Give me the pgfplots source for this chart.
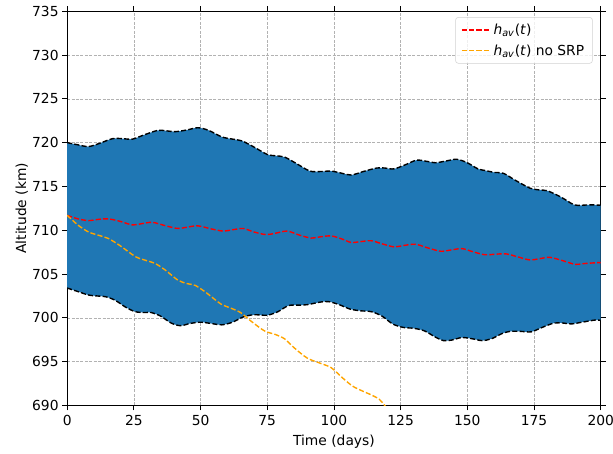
\documentclass[border={8pt 0pt -4pt 1pt}]{standalone}
\usepackage{fontspec}
\setmainfont{DejaVu Sans}
\usepackage{pgfplots}
\pgfplotsset{compat=1.18}
\usepgfplotslibrary{fillbetween}
\definecolor{mplblue}{HTML}{1F77B4}
\definecolor{mplorange}{HTML}{FFA500}
\begin{document}
\begin{tikzpicture}
\begin{axis}[
  width=385.9pt, height=285.1pt, scale only axis,
  xmin=0, xmax=200, ymin=690, ymax=735,
  xtick={0,25,...,200}, ytick={690,695,...,735},
  tick align=outside, major tick length=3.5pt,
  tick style={black, line width=0.6pt},
  grid=major, grid style={gray!60, line width=0.4pt, dash pattern=on 2.2pt off 1pt},
  axis line style={line width=0.6pt},
  xlabel={Time (days)}, ylabel={Altitude (km)},
  yticklabel style={inner xsep=2.5pt},
  ylabel style={yshift=-3pt},
  /pgf/number format/assume math mode=true,
  legend cell align=left,
  legend style={at={(rel axis cs:0.985,0.985)}, anchor=north east,
    draw=gray!35, rounded corners=2pt, fill=white, fill opacity=0.8, text opacity=1,
    inner xsep=4pt, inner ysep=2.5pt, row sep=2pt},
  legend image code/.code={\draw[#1] (0cm,0cm) -- (0.72cm,0cm);},
]
\addplot[name path=up, draw=none, smooth, forget plot] coordinates {
(0,720.0)(4,719.75)(8,719.55)(12,719.9)(17,720.45)(21,720.45)(24.5,720.4)(29,720.9)(34,721.4)(37,721.35)(40.5,721.25)(45,721.45)(49,721.7)(53,721.4)(58,720.65)(62,720.4)(65.5,720.2)(70,719.5)(75,718.65)(78,718.5)(81.5,718.35)(86,717.6)(91,716.75)(95,716.7)(99,716.75)(103,716.5)(106.5,716.3)(111,716.7)(116,717.1)(119,717.1)(122.5,717.0)(127,717.5)(131,718.0)(135,717.85)(138,717.7)(142,717.9)(146,718.1)(150,717.7)(154,717.0)(157,716.8)(160,716.6)(163.5,716.5)(168,715.7)(173.5,714.8)(177,714.6)(180,714.5)(185,713.8)(190,712.9)(193,712.85)(196,712.9)(200,712.85)
};
\addplot[name path=lo, draw=none, smooth, forget plot] coordinates {
(0,703.4)(4,703.0)(8,702.6)(11,702.5)(14.5,702.4)(18,702.0)(22,701.2)(25.5,700.7)(29,700.6)(31.5,700.6)(35,700.2)(39,699.4)(42.5,699.1)(46,699.35)(50,699.5)(54,699.35)(58,699.2)(62,699.5)(66,700.1)(70,700.35)(75,700.3)(79,700.7)(83,701.4)(87,701.45)(90,701.5)(95,701.8)(98,701.85)(102,701.5)(106,701.0)(110,700.8)(114,700.7)(118,700.2)(122,699.3)(126,698.9)(130,698.8)(134,698.5)(138,697.8)(141,697.4)(144,697.45)(148,697.75)(152,697.6)(155.5,697.4)(159,697.6)(163,698.2)(166,698.45)(170,698.45)(174,698.4)(178,698.9)(182.5,699.4)(186,699.4)(189,699.3)(193,699.5)(198,699.75)(200,699.7)
};
\addplot[mplblue, forget plot] fill between[of=up and lo];
\addplot[black, line width=1pt, dash pattern=on 3.7pt off 1.6pt, smooth, forget plot] coordinates {
(0,720.0)(4,719.75)(8,719.55)(12,719.9)(17,720.45)(21,720.45)(24.5,720.4)(29,720.9)(34,721.4)(37,721.35)(40.5,721.25)(45,721.45)(49,721.7)(53,721.4)(58,720.65)(62,720.4)(65.5,720.2)(70,719.5)(75,718.65)(78,718.5)(81.5,718.35)(86,717.6)(91,716.75)(95,716.7)(99,716.75)(103,716.5)(106.5,716.3)(111,716.7)(116,717.1)(119,717.1)(122.5,717.0)(127,717.5)(131,718.0)(135,717.85)(138,717.7)(142,717.9)(146,718.1)(150,717.7)(154,717.0)(157,716.8)(160,716.6)(163.5,716.5)(168,715.7)(173.5,714.8)(177,714.6)(180,714.5)(185,713.8)(190,712.9)(193,712.85)(196,712.9)(200,712.85)
};
\addplot[black, line width=1pt, dash pattern=on 3.7pt off 1.6pt, smooth, forget plot] coordinates {
(0,703.4)(4,703.0)(8,702.6)(11,702.5)(14.5,702.4)(18,702.0)(22,701.2)(25.5,700.7)(29,700.6)(31.5,700.6)(35,700.2)(39,699.4)(42.5,699.1)(46,699.35)(50,699.5)(54,699.35)(58,699.2)(62,699.5)(66,700.1)(70,700.35)(75,700.3)(79,700.7)(83,701.4)(87,701.45)(90,701.5)(95,701.8)(98,701.85)(102,701.5)(106,701.0)(110,700.8)(114,700.7)(118,700.2)(122,699.3)(126,698.9)(130,698.8)(134,698.5)(138,697.8)(141,697.4)(144,697.45)(148,697.75)(152,697.6)(155.5,697.4)(159,697.6)(163,698.2)(166,698.45)(170,698.45)(174,698.4)(178,698.9)(182.5,699.4)(186,699.4)(189,699.3)(193,699.5)(198,699.75)(200,699.7)
};
\addplot[red, line width=1pt, dash pattern=on 3.7pt off 1.6pt, smooth, forget plot] coordinates {
(0,711.7)(4,711.3)(8,711.1)(12,711.25)(15.5,711.3)(20,711.0)(24.5,710.6)(28,710.75)(32,710.9)(37,710.5)(41.5,710.2)(45,710.35)(49,710.5)(54,710.15)(58.5,709.9)(62,710.05)(66,710.2)(70,709.8)(74.5,709.5)(78,709.65)(82.5,709.9)(87,709.45)(91.5,709.1)(95,709.25)(99,709.35)(103,709.0)(106.5,708.6)(110,708.7)(114,708.8)(118,708.45)(122.5,708.1)(126,708.25)(130.5,708.4)(135,708.0)(140,707.6)(144,707.75)(148,707.9)(152,707.55)(156.5,707.2)(160,707.25)(164.5,707.3)(169,706.95)(173.5,706.6)(177,706.75)(181,706.9)(186,706.5)(190.5,706.1)(194,706.2)(199,706.3)(200,706.3)
};
\addplot[mplorange, line width=1pt, dash pattern=on 3.7pt off 1.6pt, smooth, forget plot] coordinates {
(0,711.7)(4,710.6)(8,709.8)(12,709.4)(15.5,709.05)(20,708.2)(25.5,707.0)(29,706.6)(33,706.2)(37,705.4)(41.5,704.3)(45,703.9)(48,703.7)(52,702.9)(57.5,701.6)(61,701.15)(65,700.6)(69,699.6)(74,698.5)(78,698.1)(81.5,697.6)(85,696.6)(90,695.4)(95,694.8)(99,694.3)(103,693.2)(107,692.2)(111,691.6)(114,691.2)(117,690.7)(119,690.0)(121,689.2)
};
\addlegendimage{red, line width=1pt, dash pattern=on 3.7pt off 1.6pt}
\addlegendentry{\textit{h}\textsubscript{\textit{av}}(\textit{t})}
\addlegendimage{mplorange, line width=1pt, dash pattern=on 3.7pt off 1.6pt}
\addlegendentry{\textit{h}\textsubscript{\textit{av}}(\textit{t}) no SRP}
\end{axis}
\end{tikzpicture}
\end{document}
